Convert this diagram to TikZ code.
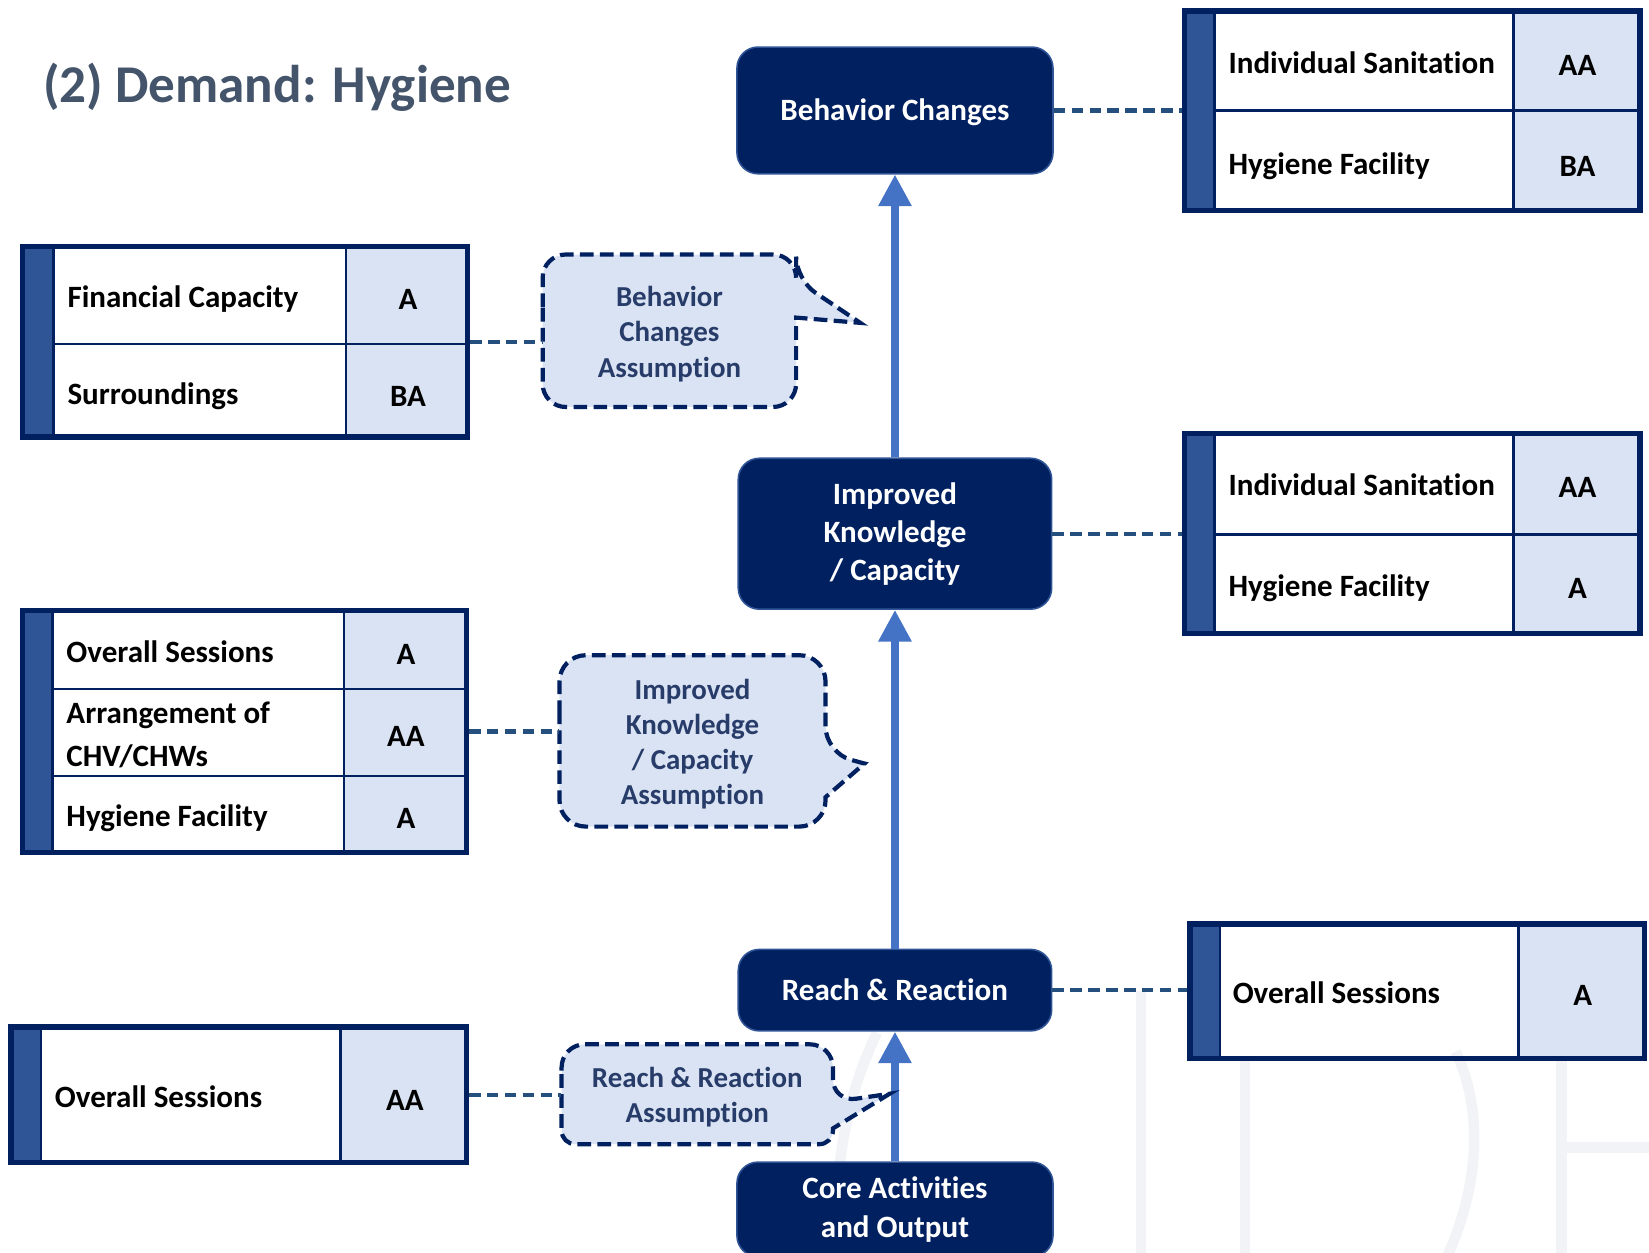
\documentclass[tikz,border=0pt]{standalone}
\usepackage{fontspec}
\setmainfont{Carlito}[Ligatures=NoCommon]
\usetikzlibrary{arrows.meta}

\definecolor{navy}{HTML}{002060}
\definecolor{stripeblue}{HTML}{2F5597}
\definecolor{paleblue}{HTML}{DAE3F3}
\definecolor{linkblue}{RGB}{37,80,125}
\definecolor{arrowblue}{HTML}{4472C4}
\definecolor{titlegray}{HTML}{44546A}
\definecolor{notetext}{RGB}{40,60,105}
\definecolor{ghost}{RGB}{242,243,246}

\tikzset{
  stagebox/.style={fill=navy, draw=stripeblue, line width=1.5pt, rounded corners=20pt,
    text=white, align=center, inner sep=0pt,
    font=\fontsize{29.5}{36}\selectfont\bfseries},
  oneline/.style={text height=19pt, text depth=0pt},
  tblframe/.style={draw=navy, line width=5pt, inner sep=0pt},
  tblrule/.style={draw=navy, line width=2.5pt},
  celltxt/.style={anchor=west, inner sep=0pt, text height=19pt, text depth=0pt,
    font=\fontsize{29.5}{36}\selectfont\bfseries},
  gradetxt/.style={anchor=center, inner sep=0pt, text height=19pt, text depth=0pt,
    font=\fontsize{29.5}{36}\selectfont\bfseries},
  notebubble/.style={fill=paleblue, draw=navy, line width=4pt, dash pattern=on 13pt off 6pt},
  notetxt/.style={align=center, inner sep=0pt, text=notetext,
    font=\fontsize{27.5}{33.5}\selectfont\bfseries},
  flow/.style={draw=arrowblue, line width=7pt, -{Triangle[width=30pt,length=30pt]}},
  linkdash/.style={draw=linkblue, line width=4pt, dash pattern=on 11pt off 6pt},
  ghoststroke/.style={draw=ghost, line width=10pt},
}

% table skeleton: name, left, top, right, bottom, stripe edge, grade column edge
\newcommand\gradetable[7]{%
  \fill[stripeblue] (#2,#3) rectangle (#6,#5);
  \fill[paleblue] (#7,#3) rectangle (#4,#5);
  \draw[tblrule] (#6,#3) -- (#6,#5);
  \draw[tblrule] (#7,#3) -- (#7,#5);
  \node[tblframe, minimum width={#4-#2-5}, minimum height={#5-#3-5}]
    (#1) at ({(#2+#4)/2},{(#3+#5)/2}) {};
}

\begin{document}
\begin{tikzpicture}[x=1pt,y=-1pt]
\useasboundingbox (0,0) rectangle (1568,1191);

% faint background lettering
\draw[ghoststroke] (834,982) .. controls (806,1040) and (794,1100) .. (794,1195);
\draw[ghoststroke] (1085,942) -- (1085,1195);
\draw[ghoststroke] (1184,1009) -- (1184,1195);
\draw[ghoststroke] (1384,1000) .. controls (1404,1040) and (1414,1110) .. (1376,1195);
\draw[ghoststroke] (1485,1009) -- (1485,1195);
\draw[ghoststroke] (1485,1091) -- (1575,1091);

% title
\node[anchor=west, inner sep=0pt, text height=32.5pt, text depth=0pt, text=titlegray,
  font=\fontsize{50.5}{60}\selectfont\bfseries] (title) at (41,81) {(2) Demand: Hygiene};

% results chain
\node[stagebox, oneline, minimum width=300.5pt, minimum height=120.5pt] (beh) at (851,105) {Behavior Changes};
\node[stagebox, minimum width=298pt, minimum height=143.5pt] (imp) at (851,507.5) {Improved\\Knowledge\\/ Capacity};
\node[stagebox, oneline, minimum width=298pt, minimum height=77.5pt] (rea) at (851,941.5) {Reach \& Reaction};
\node[stagebox, minimum width=300.5pt, minimum height=90pt,
  font=\fontsize{29.5}{37}\selectfont\bfseries] (core) at (851,1150) {Core Activities\\and Output};

\draw[flow] (imp.north) -- (beh.south);
\draw[flow] (rea.north) -- (imp.south);
\draw[flow] (core.north) -- (rea.south);

% right-hand rating tables
\gradetable{t1}{1124}{8}{1562}{203}{1155}{1439}
\draw[tblrule] (1155,105) -- (1562,105);
\node[celltxt] (t1r1) at (1168,60) {Individual Sanitation};
\node[gradetxt] (t1g1) at (1500,62) {AA};
\node[celltxt] (t1r2) at (1168,156) {Hygiene Facility};
\node[gradetxt] (t1g2) at (1500,158) {BA};

\gradetable{t2}{1124}{410}{1562}{605}{1155}{1439}
\draw[tblrule] (1155,508) -- (1562,508);
\node[celltxt] (t2r1) at (1168,462) {Individual Sanitation};
\node[gradetxt] (t2g1) at (1500,464) {AA};
\node[celltxt] (t2r2) at (1168,558) {Hygiene Facility};
\node[gradetxt] (t2g2) at (1500,560) {A};

\gradetable{t3}{1129}{876}{1566}{1009}{1160}{1444}
\node[celltxt] (t3r1) at (1172,945) {Overall Sessions};
\node[gradetxt] (t3g1) at (1505,947) {A};

% left-hand rating tables
\gradetable{t4}{19}{232}{447}{418}{51}{329}
\draw[tblrule] (51,327) -- (447,327);
\node[celltxt] (t4r1) at (64,283) {Financial Capacity};
\node[gradetxt] (t4g1) at (388,285) {A};
\node[celltxt] (t4r2) at (64,375) {Surroundings};
\node[gradetxt] (t4g2) at (388,377) {BA};

\gradetable{t5}{19}{578}{446}{813}{50}{327}
\draw[tblrule] (50,655) -- (446,655);
\draw[tblrule] (50,738) -- (446,738);
\node[celltxt] (t5r1) at (63,620) {Overall Sessions};
\node[gradetxt] (t5g1) at (386,622) {A};
\node[celltxt] (t5r2a) at (63,678) {Arrangement of};
\node[celltxt] (t5r2b) at (63,719) {CHV/CHWs};
\node[gradetxt] (t5g2) at (386,700) {AA};
\node[celltxt] (t5r3) at (63,776) {Hygiene Facility};
\node[gradetxt] (t5g3) at (386,778) {A};

\gradetable{t6}{8}{974}{446}{1108}{39}{324}
\node[celltxt] (t6r1) at (52,1044) {Overall Sessions};
\node[gradetxt] (t6g1) at (385,1046) {AA};

% assumption callouts
\draw[notebubble, rounded corners=22pt] (516,314) |- (757,242) -- (757,266)
  [sharp corners] -- (818,307) -- (757,302) -- (757,330)
  [rounded corners=22pt] |- (516,387) -- cycle;
\node[notetxt, minimum width=241pt, minimum height=145pt, yshift=-3pt] (b1) at (636.5,314.5) {Behavior\\Changes\\Assumption};

\draw[notebubble, rounded corners=25pt] (532,704) |- (785,623) -- (785,716)
  [sharp corners] -- (822,726) -- (785,758) -- (785,761)
  [rounded corners=25pt] |- (532,786) -- cycle;
\node[notetxt, minimum width=253pt, minimum height=163pt, yshift=-3pt] (b2) at (658.5,704.5) {Improved\\Knowledge\\/ Capacity\\Assumption};

\draw[notebubble, rounded corners=22pt] (534,1040) |- (792,993) -- (792,1048)
  [sharp corners] -- (846,1040) -- (792,1073) -- (792,1075)
  [rounded corners=13pt] |- (534,1088) [rounded corners=22pt] -- cycle;
\node[notetxt, minimum width=258pt, minimum height=95pt, yshift=-3pt] (b3) at (663,1040.5) {Reach \& Reaction\\Assumption};

% dashed links
\draw[linkdash] (beh.east) -- (beh.east -| t1.west);
\draw[linkdash] (imp.east) -- (imp.east -| t2.west);
\draw[linkdash] (rea.east) -- (rea.east -| t3.west);
\draw[linkdash] (t4.east) -- (t4.east -| b1.west);
\draw[linkdash] (t5.east) -- (t5.east -| b2.west);
\draw[linkdash] (t6.east) -- (t6.east -| b3.west);
\end{tikzpicture}
\end{document}
